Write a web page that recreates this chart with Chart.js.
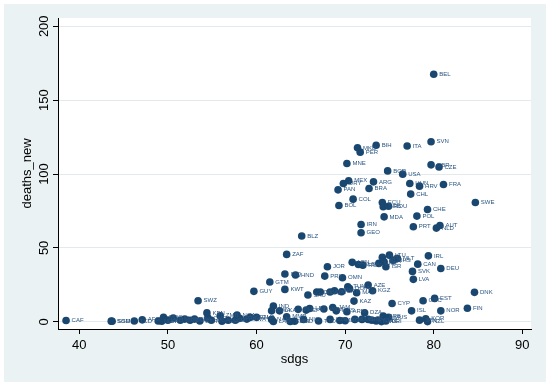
<!DOCTYPE html>
<html>
<head>
<meta charset="utf-8">
<script src="https://cdn.jsdelivr.net/npm/chart.js@4.4.0/dist/chart.umd.min.js"></script>
<style>
  html, body { margin: 0; padding: 0; background: #fff; }
</style>
</head>
<body>
<canvas id="myChart" width="550" height="386"></canvas>
<script>
// country codes, sdgs score and new deaths
const codes = ['CAF','SSD','SOM','TCD','AFG','NER','MDG','LBR','MLI','GIN','MOZ','BEN','TGO','BFA','ETH','SWZ','KEN','CMR','UGA','ZMB',
  'TZA','LSO','NGA','PAK','HTI','RWA','SEN','GHA','GUY','GTM','IND','BWA','LKA','NAM','LAO','IRQ','HND','KWT','ZAF','BLZ',
  'MMR','KHM','BGD','PHL','CPV','LBY','SAU','NIC','IDN','SLV','TTO','PRY','VNM','JOR','QAT','EGY','BRN','JAM','MYS','UZB',
  'MNG','SGP','OMN','TUN','DOM','ARM','KAZ','LBN','ALB','RUS','MAR','AZE','KGZ','DZA','CUB','VEN','FJI','THA','SYC','CHN',
  'ATG','CRI','BRB','MUS','UKR','LUX','LTU','BLR','BHS','MLT','ISR','CYP','IRL','CAN','DEU','SVK','LVA','DNK','GRC','EST',
  'ISL','NOR','FIN','JPN','KOR','NZL','GEO','IRN','PRT','NLD','AUT','MDA','POL','CHE','BOL','ECU','SRB','ROU','SWE','COL',
  'CHL','PAN','BRA','HRV','FRA','HUN','URY','ARG','MEX','USA','BGR','CZE','GBR','MNE','PER','MKD','ITA','BIH','SVN','BEL'];

const sdgs = [38.5,43.7,43.6,46.2,47.1,48.9,49.5,49.3,50.0,50.6,51.4,51.9,52.5,53.0,53.6,53.4,54.4,54.5,54.9,55.9,
  56.1,56.8,57.8,58.1,57.6,58.9,59.3,60.0,59.7,61.5,61.9,61.7,62.6,61.7,61.9,63.2,64.4,63.2,63.4,65.1,
  63.4,63.8,64.3,64.7,65.6,66.0,65.8,65.3,66.8,67.2,67.0,67.7,67.6,68.0,68.3,68.8,69.6,68.6,69.0,68.3,
  69.4,70.0,69.7,70.3,70.5,70.2,71.0,70.8,71.5,72.0,71.3,72.6,73.1,72.2,71.1,71.9,72.6,73.5,73.0,73.7,
  74.1,74.6,74.3,74.9,73.8,74.2,75.0,74.4,75.4,75.9,74.6,75.3,79.4,78.2,80.8,77.6,77.7,84.6,78.8,80.1,
  77.5,80.8,83.8,78.4,79.1,79.3,71.8,71.8,77.7,80.3,80.7,74.4,78.1,79.3,69.3,74.2,74.3,74.9,84.7,70.9,
  77.4,69.2,72.7,78.4,81.1,77.3,69.8,73.2,70.4,76.5,74.8,80.6,79.7,70.2,71.7,71.4,77.0,73.5,79.7,80.0];

const deathsNew = [0.9,0.3,0.4,0.5,1.3,0.5,3.0,0.4,1.1,2.5,1.0,1.8,1.0,1.8,0.5,14.2,6.0,2.6,1.0,4.1,
  0.4,1.0,4.6,2.3,1.0,1.8,3.0,3.0,20.6,26.9,10.6,7.4,7.4,1.6,0.2,32.3,31.6,21.9,45.6,58.0,
  3.4,0.2,0.3,8.4,7.9,9.0,18.1,1.6,20.1,20.1,0.5,30.9,8.6,37.2,20.1,21.0,20.3,9.7,7.4,1.6,
  0.9,0.7,29.8,23.7,22.4,6.8,14.0,40.2,38.8,38.3,19.6,24.8,21.0,6.1,1.6,1.6,1.6,0.5,1.1,1.1,
  0.1,0.5,3.9,3.0,39.5,43.6,45.1,40.6,41.7,42.9,37.2,12.4,44.6,39.0,36.1,34.1,28.7,19.9,14.2,15.8,
  7.4,7.4,9.1,1.1,2.0,0.1,60.2,65.8,64.3,63.4,65.2,71.0,71.5,76.0,78.7,80.7,77.8,78.2,80.7,83.0,
  86.4,89.3,90.2,91.8,92.9,93.6,93.6,94.7,95.4,99.9,102.1,104.8,106.2,107.1,114.8,117.7,119.0,119.5,121.8,167.5];

const xTicks = [40, 50, 60, 70, 80, 90];
const yTicks = [0, 50, 100, 150, 200];

const navy = '#1a476f';
const fontFam = '"Liberation Sans", Arial, sans-serif';

// stata style: bluish frame, white plot, marker labels, vertical y labels
const stataLook = {
  id: 'stataLook',
  beforeDraw(chart) {
    const c = chart.ctx, a = chart.chartArea;
    c.save();
    c.fillStyle = '#ffffff';
    c.fillRect(0, 0, chart.width, chart.height);
    c.fillStyle = '#eaf2f3';
    c.fillRect(4, 4, 542, 378);
    c.fillStyle = '#ffffff';
    c.fillRect(a.left, a.top, a.right - a.left, a.bottom - a.top);
    c.restore();
  },
  afterDatasetsDraw(chart) {
    const c = chart.ctx;
    const meta = chart.getDatasetMeta(0);
    c.save();
    c.font = '6px ' + fontFam;
    c.fillStyle = '#2a5580';
    c.textBaseline = 'middle';
    c.textAlign = 'left';
    meta.data.forEach((pt, i) => {
      c.fillText(codes[i], pt.x + 5.5, pt.y);
    });
    c.restore();
  },
  afterDraw(chart) {
    const c = chart.ctx, ys = chart.scales.y;
    c.save();
    c.font = '13px ' + fontFam;
    c.fillStyle = '#000';
    c.textAlign = 'center';
    c.textBaseline = 'middle';
    yTicks.forEach(v => {
      c.save();
      c.translate(44.5, ys.getPixelForValue(v));
      c.rotate(-Math.PI / 2);
      c.fillText(String(v), 0, 0);
      c.restore();
    });
    c.restore();
  }
};

const ctx = document.getElementById('myChart');

var myChart = new Chart(ctx, {
  type: 'scatter',
  data: {
    datasets: [{
      label: 'deaths_new',
      data: sdgs.map((x, i) => ({ x: x, y: deathsNew[i] })),
      backgroundColor: navy,
      borderWidth: 0,
      pointRadius: 3.8,
      pointHoverRadius: 3.8
    }]
  },
  options: {
    responsive: false,
    animation: false,
    events: [],
    layout: { padding: { left: 0, right: 19, top: 18, bottom: 0 } },
    plugins: {
      legend: { display: false },
      tooltip: { enabled: false }
    },
    scales: {
      x: {
        type: 'linear',
        min: 37.59,
        max: 90.98,
        afterBuildTicks: s => { s.ticks = xTicks.map(v => ({ value: v })); },
        afterFit: s => { s.height = 57; },
        grid: { drawOnChartArea: false, tickColor: '#000', tickLength: 5 },
        border: { display: true, color: '#000', width: 1 },
        ticks: { color: '#000', padding: 4, maxRotation: 0, font: { size: 13, family: fontFam } },
        title: { display: true, text: 'sdgs', color: '#000', font: { size: 13, family: fontFam }, padding: { top: 0, bottom: 19 } }
      },
      y: {
        type: 'linear',
        min: -4.9,
        max: 205.6,
        afterBuildTicks: s => { s.ticks = yTicks.map(v => ({ value: v })); },
        afterFit: s => { s.width = 58; },
        grid: { color: '#e2eaee', lineWidth: 1, tickColor: '#000', tickLength: 5 },
        border: { display: true, color: '#000', width: 1 },
        ticks: { display: false },
        title: { display: true, text: 'deaths_new', color: '#000', font: { size: 13, family: fontFam }, padding: { top: 20, bottom: 0 } }
      }
    }
  },
  plugins: [stataLook]
});
</script>
</body>
</html>
